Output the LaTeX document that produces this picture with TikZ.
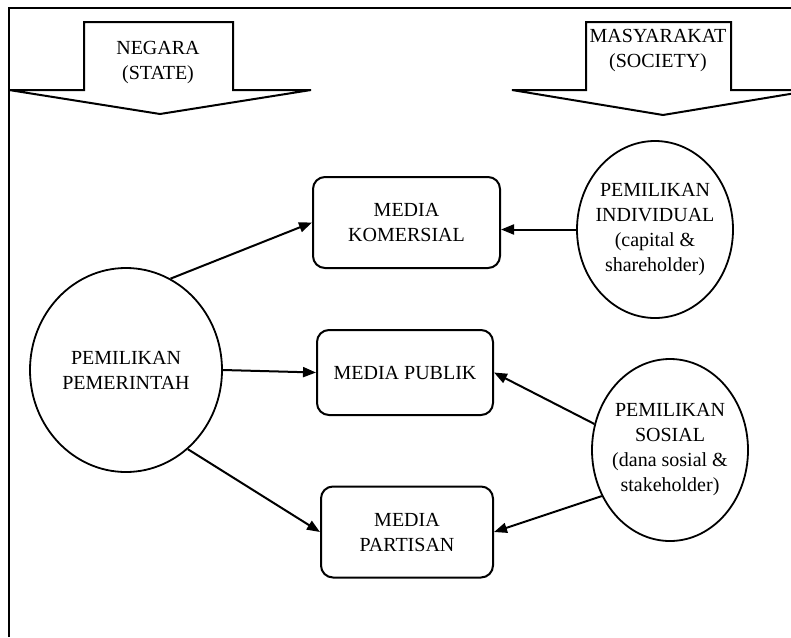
\documentclass[tikz,border=0pt]{standalone}
\usepackage{fontspec}
\setmainfont{Liberation Serif}
\usetikzlibrary{arrows.meta,shapes.geometric}

\begin{document}
\begin{tikzpicture}[x=1pt,y=-1pt,
	every node/.style={font=\fontsize{20pt}{25pt}\selectfont},
	heading/.style={align=center, inner sep=0pt},
	media/.style={draw, line width=2pt, rounded corners=12pt, align=center, inner sep=0pt},
	owner/.style={draw, ellipse, line width=1.8pt, align=center, inner xsep=-8pt, inner ysep=0pt},
	conn/.style={line width=2pt, -{Triangle[length=13pt,width=10pt]}}]
	%%%%% START %%%%%
	
	\useasboundingbox (0,0) rectangle (791,637);
	
	% frame
	\draw[line width=2.5pt] (9,637) -- (9,8) -- (791,8);
	
	% block arrows
	\draw[line width=2pt] (9,90) -- (84,90) -- (84,22) -- (233,22) -- (233,90) -- (311,90) -- (160,114) -- cycle;
	\begin{scope}
		\clip (0,0) rectangle (791,637);
		\draw[line width=2pt] (512,90) -- (586,90) -- (586,22) -- (731,22) -- (731,90) -- (814,90) -- (663,115) -- cycle;
	\end{scope}
	\node[heading] (state) at (158,63) {NEGARA\\(STATE)};
	\node[heading] (society) at (658,51) {MASYARAKAT\\(SOCIETY)};
	
	% media
	\node[media, minimum width=187pt, minimum height=91pt] (komersial) at (406.5,222.5) {MEDIA\\KOMERSIAL};
	\node[media, minimum width=176pt, minimum height=85pt] (publik) at (405,372.5) {MEDIA PUBLIK};
	\node[media, minimum width=172pt, minimum height=91pt] (partisan) at (407,532) {MEDIA\\PARTISAN};
	
	% ownership
	\node[owner, minimum width=192pt, minimum height=204pt] (pemerintah) at (126,370) {PEMILIKAN\\PEMERINTAH};
	\node[owner, minimum width=156pt, minimum height=177pt] (individual) at (655,229.5) {PEMILIKAN\\INDIVIDUAL\\(capital \&\\shareholder)};
	\node[owner, minimum width=156pt, minimum height=182pt] (sosial) at (670,450) {PEMILIKAN\\SOSIAL\\(dana sosial \&\\stakeholder)};
	
	% connectors
	\draw[conn] (pemerintah.64) -- (komersial.west);
	\draw[conn] (pemerintah.east) -- (publik.west);
	\draw[conn] (pemerintah.-52) -- (partisan.west);
	\draw[conn] (individual.west) -- (individual.west -| komersial.east);
	\draw[conn] (sosial.161) -- (publik.east);
	\draw[conn] (sosial.214) -- (partisan.east);
	
	%%%%% END %%%%%
\end{tikzpicture}
\end{document}
